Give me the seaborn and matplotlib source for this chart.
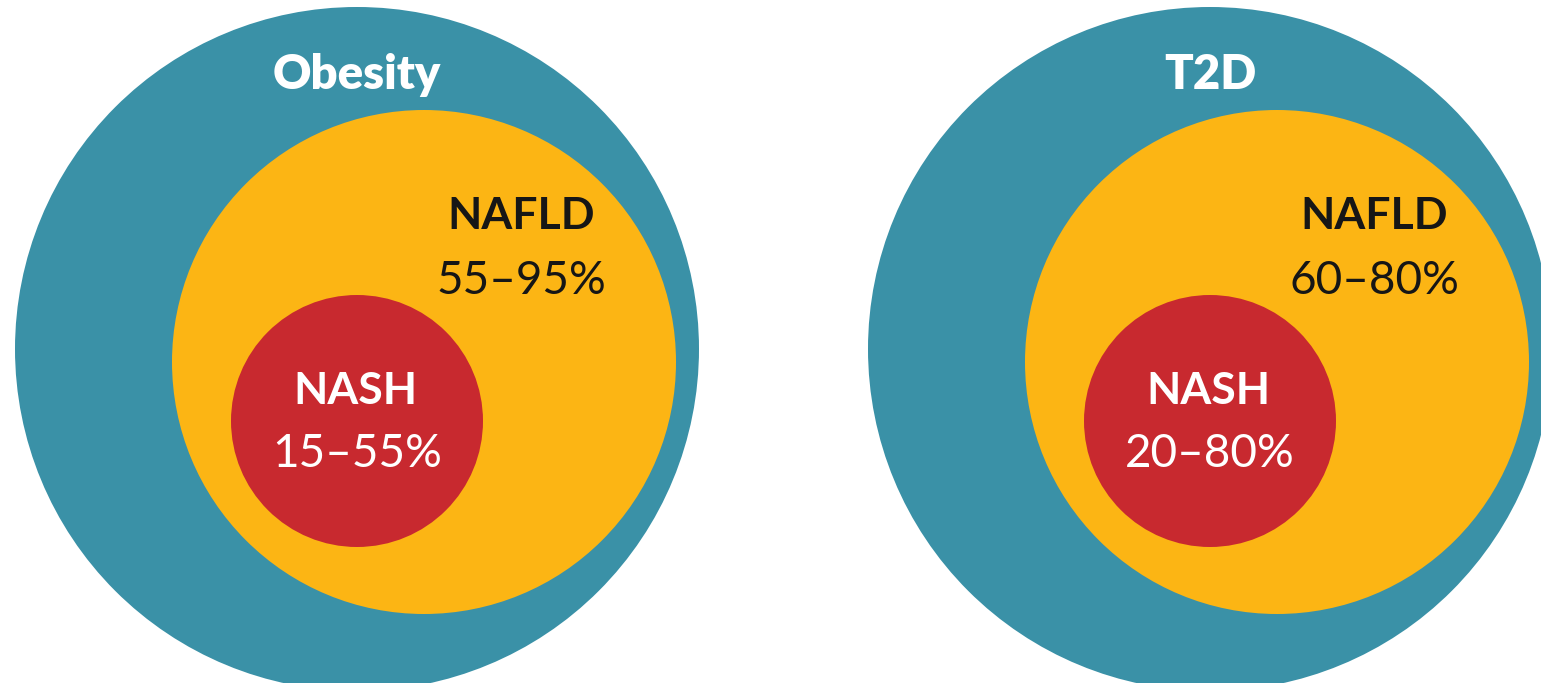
import matplotlib
matplotlib.use("Agg")
import matplotlib.pyplot as plt
from matplotlib.patches import Circle
import seaborn as sns

# Nested prevalence diagrams: outer population, NAFLD share, NASH share
groups = ["Obesity", "T2D"]
nafld_ranges = ["55\u201395%", "60\u201380%"]
nash_ranges = ["15\u201355%", "20\u201380%"]

outer_label = "NAFLD"
inner_label = "NASH"

sns.set_theme(style="white")
plt.rcParams["font.family"] = ["Lato", "DejaVu Sans"]

palette = {"outer": "#3a91a7", "nafld": "#fcb514", "nash": "#c8292f"}

W, H = 1541, 683
fig = plt.figure(figsize=(W / 100, H / 100), dpi=100)
ax = fig.add_axes([0, 0, 1, 1])
ax.set_xlim(0, W)
ax.set_ylim(H, 0)
ax.set_aspect("equal")
ax.axis("off")

# layout in pixel units: horizontal spacing between the two diagrams
group_x = [357, 1210]
outer_r, outer_y = 342, 349
nafld_dx, nafld_y, nafld_r = 67, 362, 252
nash_dx, nash_y, nash_r = 0, 421, 126

for cx, name, nafld, nash in zip(group_x, groups, nafld_ranges, nash_ranges):
    ax.add_patch(Circle((cx, outer_y), outer_r, facecolor=palette["outer"],
                        edgecolor="none"))
    ax.add_patch(Circle((cx + nafld_dx, nafld_y), nafld_r,
                        facecolor=palette["nafld"], edgecolor="none"))
    ax.add_patch(Circle((cx + nash_dx, nash_y), nash_r,
                        facecolor=palette["nash"], edgecolor="none"))

    ax.text(cx, 75, name, ha="center", va="center", color="white",
            fontsize=34, fontweight="heavy")
    ax.text(cx + 164, 216, outer_label, ha="center", va="center",
            color="#161616", fontsize=32, fontweight="bold")
    ax.text(cx + 164, 281, nafld, ha="center", va="center",
            color="#161616", fontsize=33)
    ax.text(cx - 2, 391, inner_label, ha="center", va="center",
            color="white", fontsize=32, fontweight="bold")
    ax.text(cx, 454, nash, ha="center", va="center", color="white",
            fontsize=33)

fig.savefig("out.png", dpi=100, facecolor="white")
